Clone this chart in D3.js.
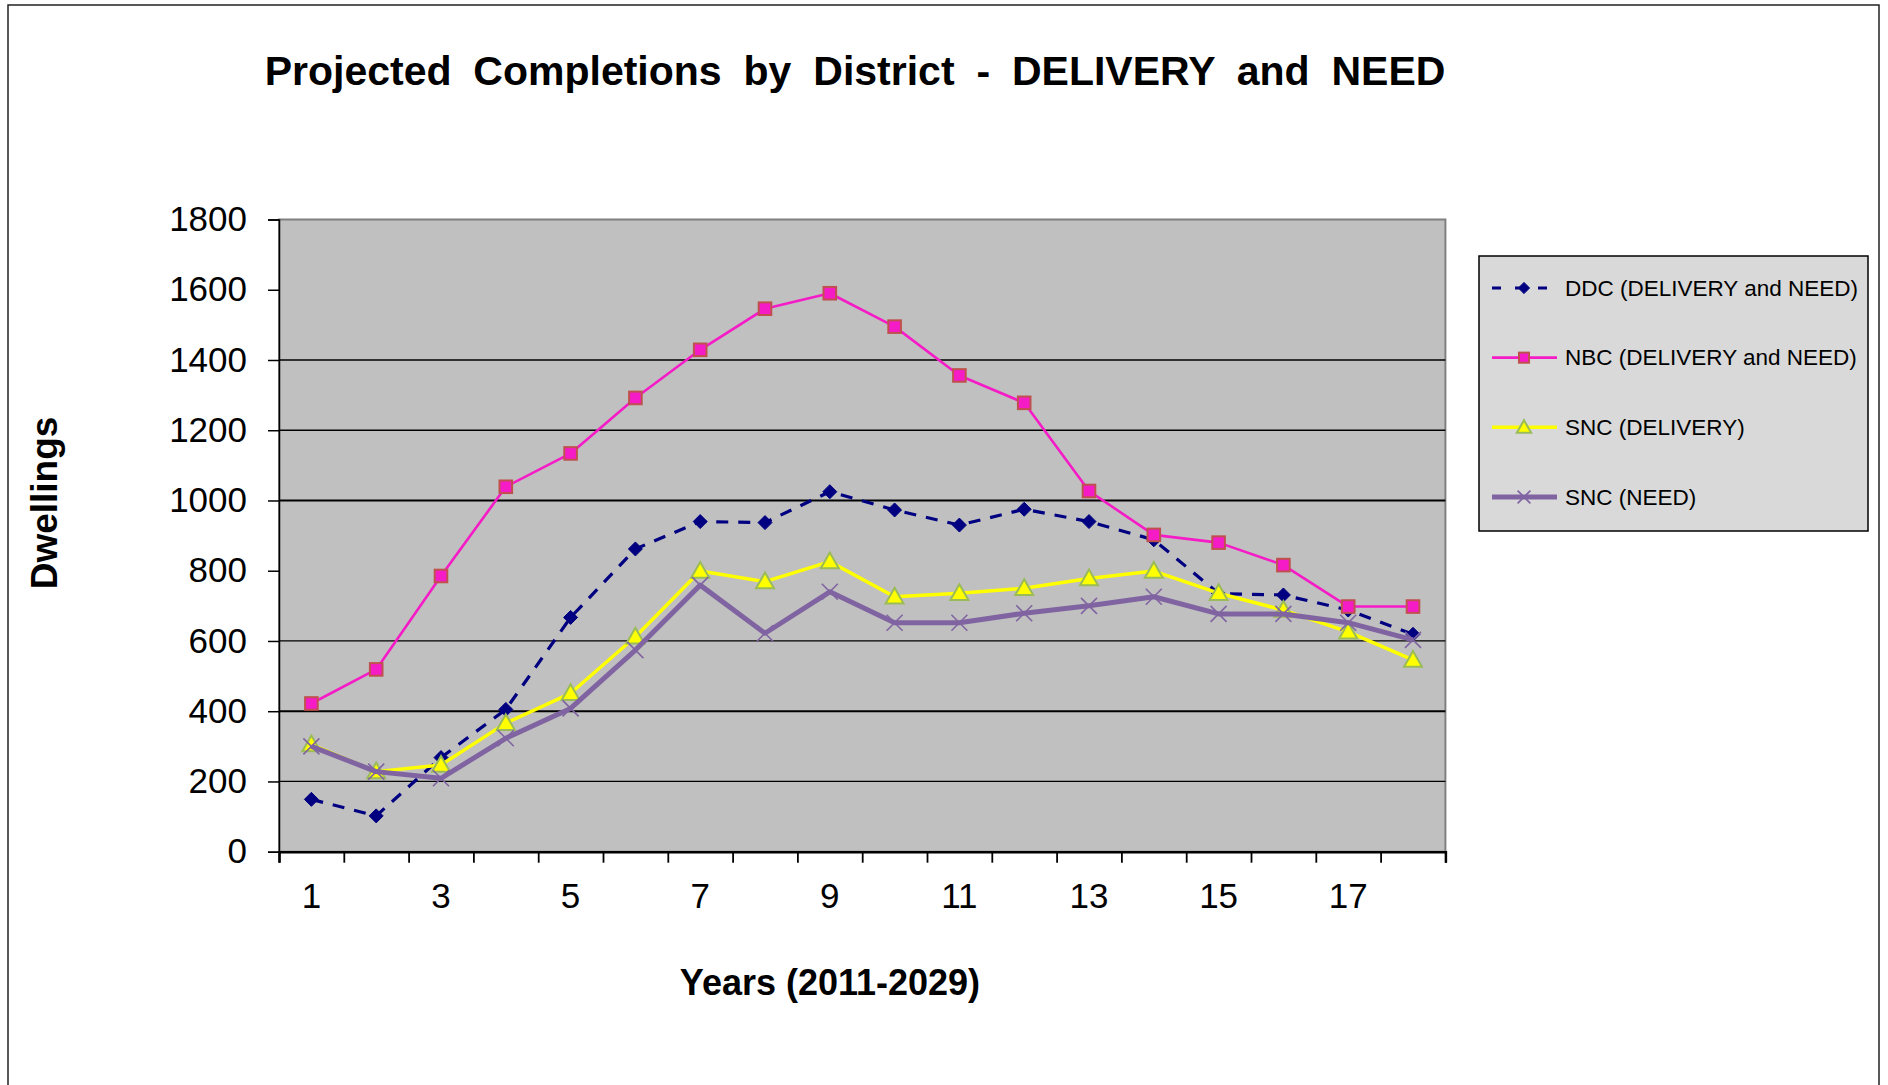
<!DOCTYPE html>
<html lang="en">
<head>
<meta charset="UTF-8">
<title>Projected Completions by District</title>
<style>
  body { margin: 0; background: #fff; }
  text { font-family: "Liberation Sans", Arial, sans-serif; }
</style>
</head>
<body>
<svg width="1888" height="1085"></svg>
<script src="https://d3js.org/d3.v7.min.js"></script>
<script>

// years 1..18 of the 2011-2029 plan
var years = d3.range(1, 19);
var yTicks = [0, 200, 400, 600, 800, 1000, 1200, 1400, 1600, 1800];
var gridValues = [200, 400, 600, 1000, 1200, 1400];   // the ones visible in the picture
var xLabels = [1, 3, 5, 7, 9, 11, 13, 15, 17];

var ddc = [149, 102, 268, 405, 667, 862, 940, 937, 1025, 973, 930, 975, 940, 888, 735, 731, 688, 619];
var nbc = [422, 519, 785, 1039, 1134, 1292, 1429, 1546, 1590, 1495, 1356, 1278, 1027, 902, 880, 816, 698, 698];
var sncDelivery = [305, 228, 247, 366, 451, 612, 799, 769, 826, 726, 736, 750, 778, 799, 736, 688, 626, 546];
var sncNeed = [300, 228, 209, 323, 408, 574, 759, 622, 740, 652, 652, 679, 700, 726, 677, 677, 652, 603];

var seriesNames = ["DDC (DELIVERY and NEED)", "NBC (DELIVERY and NEED)", "SNC (DELIVERY)", "SNC (NEED)"];

var svg = d3.select("svg");
var plot = {left: 279, top: 219.5, right: 1445.4, bottom: 851.7};

var x = d3.scaleBand().domain(years).range([plot.left, plot.right]).padding(0);
var xEdge = d3.scaleLinear().domain([0, years.length]).range([plot.left, plot.right]);
var y = d3.scaleLinear().domain([0, 1800]).range([plot.bottom, plot.top]);
function cx(i) { return x(years[i]) + x.bandwidth() / 2; }

// outer frame
svg.append("rect").attr("x", 8).attr("y", 5).attr("width", 1871).attr("height", 1100)
    .attr("fill", "none").attr("stroke", "#222").attr("stroke-width", 1.5);

// plot background
svg.append("rect")
    .attr("x", plot.left).attr("y", plot.top)
    .attr("width", plot.right - plot.left).attr("height", plot.bottom - plot.top)
    .attr("fill", "#c0c0c0").attr("stroke", "#808080").attr("stroke-width", 2);

svg.append("g").selectAll("line").data(gridValues).enter().append("line")
    .attr("x1", plot.left).attr("x2", plot.right)
    .attr("y1", function(d) { return y(d); }).attr("y2", function(d) { return y(d); })
    .attr("stroke", "#000").attr("stroke-width", function(d) { return d == 1000 || d == 400 ? 2 : 1.3; });

// y axis
var yAxis = svg.append("g").attr("transform", "translate(" + plot.left + ",0)")
    .call(d3.axisLeft(y).tickValues(yTicks).tickFormat(d3.format("d")).tickSize(11).tickPadding(21));
yAxis.selectAll("text").attr("font-size", 35).attr("fill", "#000")
    .style("font-family", "'Liberation Sans', Arial, sans-serif");
yAxis.selectAll("line").attr("stroke", "#000").attr("stroke-width", 1.5);
yAxis.select(".domain").attr("stroke", "#000").attr("stroke-width", 1.5);

// x axis: ticks between categories, labels on odd years
var xTickAxis = svg.append("g").attr("transform", "translate(0," + plot.bottom + ")")
    .call(d3.axisBottom(xEdge).tickValues(d3.range(years.length + 1)).tickSize(11).tickFormat(""));
xTickAxis.selectAll("line").attr("stroke", "#000").attr("stroke-width", 1.8);
xTickAxis.select(".domain").attr("stroke", "#000").attr("stroke-width", 2.5);

var xLabelAxis = svg.append("g").attr("transform", "translate(0," + plot.bottom + ")")
    .call(d3.axisBottom(x).tickValues(xLabels).tickSize(0).tickPadding(31));
xLabelAxis.select(".domain").remove();
xLabelAxis.selectAll("text").attr("font-size", 35).attr("fill", "#000")
    .style("font-family", "'Liberation Sans', Arial, sans-serif");

// titles
svg.append("text").attr("x", 855).attr("y", 85).attr("text-anchor", "middle")
    .attr("font-size", 41).attr("font-weight", "bold").style("word-spacing", "10.5px")
    .text("Projected Completions by District - DELIVERY and NEED");

svg.append("text").attr("x", 830).attr("y", 995).attr("text-anchor", "middle")
    .attr("font-size", 36).attr("font-weight", "bold")
    .text("Years (2011-2029)");

svg.append("text").attr("transform", "translate(57,503) rotate(-90)").attr("text-anchor", "middle")
    .attr("font-size", 37).attr("font-weight", "bold")
    .text("Dwellings");

// series
var line = d3.line().x(function(d, i) { return cx(i); }).y(function(d) { return y(d); });

var styles = [
    {data: ddc, color: "#000080", width: 3.2, dash: "12,10", marker: "diamond"},
    {data: nbc, color: "#f51bc6", width: 2.6, dash: null, marker: "square"},
    {data: sncDelivery, color: "#ffff00", width: 3.5, dash: null, marker: "triangle"},
    {data: sncNeed, color: "#8064a2", width: 5, dash: null, marker: "cross"}
];

function drawMarker(g, kind, px, py, scale) {
    var s = scale || 1;
    if (kind == "diamond") {
        var r = 7 * s;
        g.append("path").attr("d", "M" + px + "," + (py - r) + "L" + (px + r) + "," + py +
            "L" + px + "," + (py + r) + "L" + (px - r) + "," + py + "Z")
            .attr("fill", "#000080").attr("stroke", "#000080").attr("stroke-width", 1);
    } else if (kind == "square") {
        var h = 6.3 * s;
        g.append("rect").attr("x", px - h).attr("y", py - h).attr("width", 2 * h).attr("height", 2 * h)
            .attr("fill", "#f51bc6").attr("stroke", "#c0504d").attr("stroke-width", 2);
    } else if (kind == "triangle") {
        var t = 9 * s;
        g.append("path").attr("d", "M" + px + "," + (py - t) + "L" + (px + t) + "," + (py + t * 0.75) +
            "L" + (px - t) + "," + (py + t * 0.75) + "Z")
            .attr("fill", "#ffff00").attr("stroke", "#9bbb59").attr("stroke-width", 2);
    } else {
        var c = 8 * s;
        g.append("path").attr("d", "M" + (px - c) + "," + (py - c) + "L" + (px + c) + "," + (py + c) +
            "M" + (px + c) + "," + (py - c) + "L" + (px - c) + "," + (py + c))
            .attr("fill", "none").attr("stroke", "#8064a2").attr("stroke-width", 1.6);
    }
}

styles.forEach(function(s) {
    var g = svg.append("g");
    g.append("path").datum(s.data).attr("d", line)
        .attr("fill", "none").attr("stroke", s.color).attr("stroke-width", s.width)
        .attr("stroke-dasharray", s.dash).attr("stroke-linejoin", "round");
    s.data.forEach(function(v, i) { drawMarker(g, s.marker, cx(i), y(v)); });
});

// legend
var legend = svg.append("g");
legend.append("rect").attr("x", 1479).attr("y", 256).attr("width", 389).attr("height", 275)
    .attr("fill", "#d9d9d9").attr("stroke", "#000").attr("stroke-width", 1.5);

var legendY = d3.scalePoint().domain(seriesNames).range([288, 497]);
styles.forEach(function(s, i) {
    var ly = legendY(seriesNames[i]);
    legend.append("line").attr("x1", 1492).attr("x2", 1557).attr("y1", ly).attr("y2", ly)
        .attr("stroke", s.color).attr("stroke-width", s.width)
        .attr("stroke-dasharray", s.dash ? "9,14" : null);
    drawMarker(legend, s.marker, 1524, ly, 0.8);
    legend.append("text").attr("x", 1565).attr("y", ly + 7.5)
        .attr("font-size", 22.5).attr("fill", "#000").text(seriesNames[i]);
});

</script>
</body>
</html>
